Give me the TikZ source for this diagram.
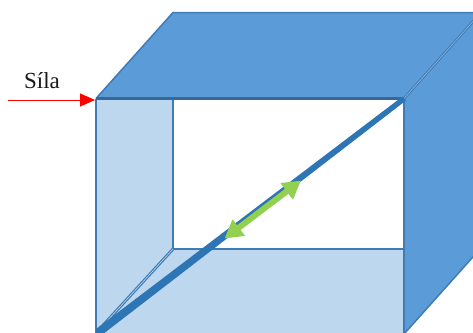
\documentclass[tikz,border=0pt]{standalone}
\usepackage{fontspec}
\setmainfont{Liberation Serif}
\usetikzlibrary{arrows.meta}
\definecolor{darkfill}{HTML}{5B9BD7}
\definecolor{lightfill}{HTML}{BDD7EE}
\definecolor{edgeblue}{HTML}{3F7CB5}
\definecolor{diagblue}{HTML}{2E75B6}
\definecolor{darkedge}{HTML}{37689A}
\definecolor{arrowgreen}{HTML}{92D050}
\tikzset{
  px/.style={x=1pt,y=-1pt},
  edge/.style={draw=edgeblue,line width=1.5pt,line join=round},
  label/.style={font=\fontsize{23}{26}\selectfont,text=black!90,inner sep=0pt}
}
\begin{document}
\begin{tikzpicture}[px]
\useasboundingbox (0,0) rectangle (473,332);
\clip (0,0) rectangle (473,332);
\coordinate (ftl) at (96,98.5);
\coordinate (ftr) at (404,98.5);
\coordinate (fbl) at (96,333);
\coordinate (fbr) at (404,334);
\coordinate (btl) at (173,12.5);
\coordinate (btr) at (481,12.5);
\coordinate (bbr) at (481,248);
\coordinate (itl) at (173,98.5);
\coordinate (ibl) at (173,249);
\coordinate (ibr) at (404,249);
\coordinate (gA) at (224.5,238.5);
\coordinate (gB) at (301,180.5);
\coordinate (forceS) at (8,100);
\coordinate (forceE) at (95,100);
% faces
\fill[lightfill] (ftl) -- (itl) -- (ibl) -- (fbl) -- cycle;
\fill[lightfill] (fbl) -- (ibl) -- (ibr) -- (fbr) -- cycle;
\fill[darkfill] (ftl) -- (btl) -- (btr) -- (ftr) -- cycle;
\fill[darkfill] (ftr) -- (btr) -- (bbr) -- (fbr) -- cycle;
% outlines
\draw[edge] (ftl) -- (btl) -- (btr);
\draw[edge] (ftl) -- (fbl);
\draw[edge] (itl) -- (ibl) -- (ibr);
\draw[edge] (fbr) -- (bbr);
\draw[edge,line width=2.2pt] (ftr) -- (fbr);
\draw[draw=darkedge,line width=2.2pt] (ftl) -- (ftr);
\draw[edge,line width=2.6pt] (ftr) -- (btr);
\draw[draw=darkfill!70!white,line width=.6pt] (ftr) -- (btr);
\draw[edge,line width=3pt] (fbl) -- (ibl);
\draw[draw=lightfill,line width=.6pt] (fbl) -- (ibl);
% diagonal
\fill[diagblue] (96,329) -- (402.5,96.5) -- (406,100.5) -- (103,334) -- (96,334) -- cycle;
% green arrow
\draw[draw=arrowgreen,line width=6pt,{Triangle[length=18pt,width=19.5pt]}-{Triangle[length=18pt,width=19.5pt]}] (gA) -- (gB);
% force
\node[label,anchor=base] (sila) at (42,88) {Síla};
\draw[draw=red,line width=1pt,-{Triangle[length=15pt,width=13pt]}] (forceS) -- (forceE);
\end{tikzpicture}
\end{document}
